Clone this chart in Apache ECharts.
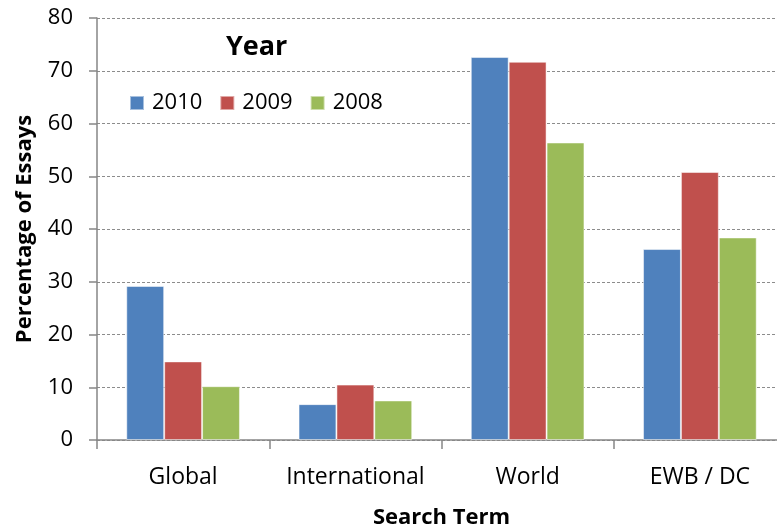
<!DOCTYPE html>
<html>
<head>
<meta charset="utf-8">
<script src="https://cdn.jsdelivr.net/npm/echarts@6/dist/echarts.min.js"></script>
<style>
  html, body { margin: 0; padding: 0; background: #fff; overflow: hidden; width: 777px; height: 527px; }
  /* canvas is a little wider than the page so the plot runs off the right edge */
  #chart { width: 786px; height: 527px; }
</style>
</head>
<body>
<div id="chart"></div>
<script>
// Share of essays mentioning each search term, by year
const categories = ['Global', 'International', 'World', 'EWB / DC'];
const years = ['2010', '2009', '2008'];
const values2010 = [29.2, 6.8, 72.6, 36.2];
const values2009 = [14.9, 10.5, 71.7, 50.8];
const values2008 = [10.2, 7.5, 56.4, 38.4];
const yTicks = { min: 0, max: 80, interval: 10 };

const colors = ['#4f81bd', '#c0504d', '#9bbb59'];
const font = "'Open Sans', 'Noto Sans', sans-serif";
const axisGray = '#868686';

const seriesData = [values2010, values2009, values2008];

const chart = echarts.init(document.getElementById('chart'));
chart.setOption({
  animation: false,
  textStyle: { fontFamily: font },
  color: colors,
  title: {
    text: 'Year',
    left: 221,
    top: 29,
    textStyle: { fontFamily: font, fontSize: 27, fontWeight: 'bold', color: '#000' }
  },
  legend: {
    data: years,
    left: 124,
    top: 87,
    icon: 'rect',
    itemWidth: 14,
    itemHeight: 14,
    itemGap: 17,
    textStyle: { fontFamily: font, fontSize: 22, color: '#000', padding: [0, 0, 0, 3] }
  },
  grid: { left: 97, right: 0, top: 18, bottom: 87, containLabel: false, outerBoundsMode: 'none' },
  xAxis: {
    type: 'category',
    data: categories,
    name: 'Search Term',
    nameLocation: 'middle',
    nameGap: 67,
    nameTextStyle: { fontFamily: font, fontSize: 22, fontWeight: 'bold', color: '#000' },
    axisLine: { lineStyle: { color: axisGray, width: 1.5 } },
    axisTick: { show: true, interval: 0, length: 9, lineStyle: { color: axisGray, width: 1.5 } },
    axisLabel: { interval: 0, margin: 26, fontSize: 23, color: '#000', fontFamily: font }
  },
  yAxis: {
    type: 'value',
    min: yTicks.min,
    max: yTicks.max,
    interval: yTicks.interval,
    name: 'Percentage of Essays',
    nameLocation: 'middle',
    nameGap: 61,
    nameTextStyle: { fontFamily: font, fontSize: 22, fontWeight: 'bold', color: '#000' },
    axisLine: { show: true, lineStyle: { color: axisGray, width: 1.5 } },
    axisTick: { show: true, length: 8, lineStyle: { color: axisGray, width: 1.5 } },
    axisLabel: { margin: 24, fontSize: 22, color: '#000', fontFamily: font },
    splitLine: { lineStyle: { color: '#8c8c8c', type: [3, 2], width: 1 } }
  },
  series: years.map((y, i) => ({
    name: y,
    type: 'bar',
    data: seriesData[i],
    barGap: '0%',
    barCategoryGap: '34%',
    itemStyle: { color: colors[i], borderColor: 'rgba(255,255,255,0.5)', borderWidth: 1 }
  }))
});
</script>
</body>
</html>
